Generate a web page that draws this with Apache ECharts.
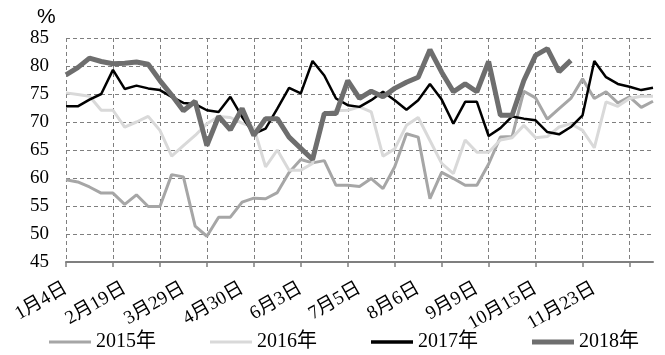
<!DOCTYPE html>
<html>
<head>
<meta charset="utf-8">
<script src="https://cdn.jsdelivr.net/npm/echarts@6/dist/echarts.min.js"></script>
<style>
html,body{margin:0;padding:0;background:#fff;}
#chart{width:665px;height:355px;}
</style>
</head>
<body>
<div id="chart"></div>
<script>
const categories = [
  '1月4日','1月11日','1月18日','1月25日','2月1日',
  '2月19日','2月26日','3月5日','3月12日','3月19日',
  '3月29日','4月2日','4月9日','4月16日','4月23日',
  '4月30日','5月7日','5月14日','5月21日','5月28日',
  '6月3日','6月10日','6月14日','6月21日','6月28日',
  '7月5日','7月12日','7月19日','7月26日','7月30日',
  '8月6日','8月13日','8月20日','8月27日','9月3日',
  '9月9日','9月16日','9月23日','9月30日','10月8日',
  '10月15日','10月22日','10月29日','11月5日','11月16日',
  '11月23日','11月30日','12月7日','12月14日','12月21日','12月28日'
];
const shownLabels = ['1月4日','2月19日','3月29日','4月30日','6月3日','7月5日','8月6日','9月9日','10月15日','11月23日'];
const yTicks = { min: 45, max: 85, interval: 5 };
const seriesNames = ['2015年','2016年','2017年','2018年'];

const s2015 = [59.7,59.3,58.4,57.3,57.3,55.3,57.0,54.9,54.9,60.6,
  60.2,51.4,49.6,53.0,53.0,55.7,56.4,56.3,57.4,61.0,
  63.3,62.7,63.1,58.7,58.7,58.5,59.9,58.1,62.0,67.9,
  67.3,56.3,61.0,59.9,58.7,58.7,62.5,67.3,67.4,75.5,
  74.3,70.5,72.4,74.2,77.7,74.2,75.4,73.4,74.5,72.6,73.7];
const s2016 = [75.2,74.9,74.6,72.1,72.1,69.1,70.0,71.0,68.5,63.9,
  65.8,67.6,69.7,71.0,70.8,69.8,69.0,62.0,65.0,61.4,
  61.4,62.6,71.5,72.0,72.1,72.7,71.8,63.9,65.2,69.4,
  70.8,66.7,62.6,60.8,66.8,64.6,64.6,66.8,67.2,69.4,
  67.2,67.4,69.1,69.7,68.5,65.4,73.6,72.8,74.2,74.6,74.6];
const s2017 = [72.8,72.8,74.0,75.0,79.3,75.9,76.5,76.0,75.7,74.5,
  73.4,73.2,72.1,71.8,74.5,70.9,67.9,68.8,72.4,76.1,
  75.1,80.9,78.3,74.2,73.0,72.7,73.9,75.4,73.9,72.2,
  73.9,76.8,74.0,69.7,73.6,73.6,67.5,68.9,71.0,70.6,
  70.3,68.2,67.8,69.1,71.2,80.9,78.0,76.8,76.3,75.7,76.1];
const s2018 = [78.4,79.7,81.4,80.8,80.4,80.5,80.7,80.3,77.4,74.8,
  72.0,73.7,65.8,71.0,68.6,72.4,67.6,70.6,70.6,67.3,
  65.3,63.3,71.5,71.5,77.4,74.2,75.5,74.5,76.0,77.1,
  78.0,82.9,78.9,75.4,76.8,75.4,80.8,71.2,71.2,77.4,
  81.9,83.1,79.0,81.0];

const seriesData = [s2015, s2016, s2017, s2018];
const colors = ['#a6a6a6', '#d9d9d9', '#000000', '#6e6e6e'];
const widths = [3, 3, 2.5, 5];
const legendIcons = ['path://M0,0H42V3H0Z', 'path://M0,0H42V3H0Z', 'path://M0,0H42V3.5H0Z', 'path://M0,0H42V5H0Z'];

const FONT = "'Liberation Serif', 'Noto Sans CJK SC', serif";
const chart = echarts.init(document.getElementById('chart'), null, {renderer: 'canvas'});
chart.setOption({
  animation: false,
  backgroundColor: '#fff',
  title: {
    text: '%', left: 32, top: 2,
    textStyle: {fontFamily: "'Liberation Sans', sans-serif", fontSize: 21, fontWeight: 'normal', color: '#000'}
  },
  grid: {left: 66, right: 12, top: 38, bottom: 93, containLabel: false},
  legend: {
    left: 44, top: 327, itemWidth: 42, itemHeight: 12, itemGap: 54,
    symbolKeepAspect: true,
    textStyle: {fontFamily: FONT, fontSize: 20, color: '#000'},
    data: seriesNames.map((n, k) => ({name: n, icon: legendIcons[k], itemStyle: {color: colors[k]}}))
  },
  xAxis: {
    type: 'category', boundaryGap: false, data: categories,
    axisLine: {lineStyle: {color: '#7f7f7f', width: 2}},
    axisTick: {show: true, interval: 3, length: 5, lineStyle: {color: '#7f7f7f', width: 1.5}},
    axisLabel: {
      interval: (idx, val) => shownLabels.indexOf(val) >= 0,
      rotate: 30, margin: 25, fontFamily: FONT, fontSize: 19, color: '#000'
    },
    splitLine: {show: true, interval: 3, lineStyle: {color: '#7f7f7f', type: [4, 3], width: 1}}
  },
  yAxis: {
    type: 'value', min: yTicks.min, max: yTicks.max, interval: yTicks.interval,
    axisLine: {show: false}, axisTick: {show: false},
    axisLabel: {margin: 17, fontFamily: FONT, fontSize: 19, color: '#000'},
    splitLine: {show: true, lineStyle: {color: '#7f7f7f', type: [4, 3], width: 1}}
  },
  series: seriesNames.map((n, k) => ({
    name: n, type: 'line', data: seriesData[k], symbol: 'none',
    lineStyle: {color: colors[k], width: widths[k]},
    itemStyle: {color: colors[k]}
  }))
});
</script>
</body>
</html>
